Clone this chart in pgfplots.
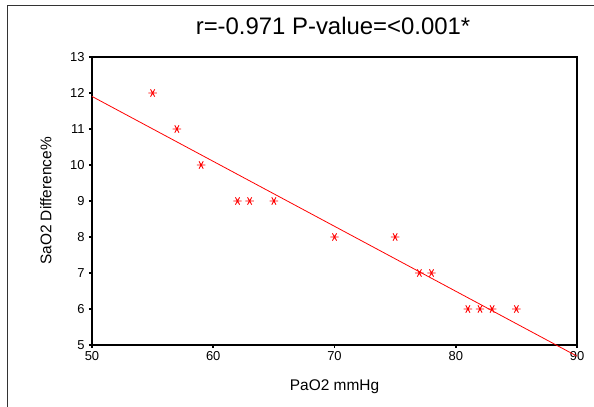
\documentclass[border=0pt]{standalone}
\usepackage{fontspec}
\setmainfont{Liberation Sans}
\usepackage{pgfplots}
\pgfplotsset{compat=1.18}

\begin{document}
\begin{tikzpicture}
\useasboundingbox (0,0) rectangle (594bp,407bp);
% outer frame (only left and top visible)
\draw[line width=0.9pt, black!80] (7bp,0) -- (7bp,402bp) -- (594bp,402bp);
\begin{axis}[
    at={(92bp,62bp)}, anchor=south west,
    scale only axis,
    width=485bp, height=288bp,
    xmin=50, xmax=90, ymin=5, ymax=13,
    xtick={50,60,70,80,90},
    ytick={5,6,7,8,9,10,11,12,13},
    tick pos=left,
    tick align=outside,
    major tick length=3bp,
    tick style={line width=1.6pt, black},
    axis line style={line width=1.1pt},
    clip=false,
    tick label style={font=\fontsize{13}{15}\selectfont},
    /pgf/number format/assume math mode=true,
    title={r=-0.971 P-value=<0.001*},
    title style={font=\fontsize{24}{28}\selectfont, at={(axis description cs:0.497,1.087)}, anchor=center},
    xlabel={PaO2 mmHg},
    ylabel={SaO2 Difference\%},
    label style={font=\fontsize{15.5}{18}\selectfont},
    xlabel style={at={(axis description cs:0.5,-0.145)}, anchor=center},
    ylabel style={at={(axis description cs:-0.095,0.5)}, anchor=center},
    yticklabel style={xshift=-1bp},
]
\addplot[only marks, mark=asterisk, mark size=4.2bp, red, mark options={line width=0.9pt, rotate=90}]
coordinates {
(55,12) (57,11) (59,10) (62,9) (63,9) (65,9) (70,8) (75,8)
(77,7) (78,7) (81,6) (82,6) (83,6) (85,6)
};
\addplot[red, line width=0.8pt, no marks] coordinates {(50,11.905) (90,4.69)};
\end{axis}
\end{tikzpicture}
\end{document}
